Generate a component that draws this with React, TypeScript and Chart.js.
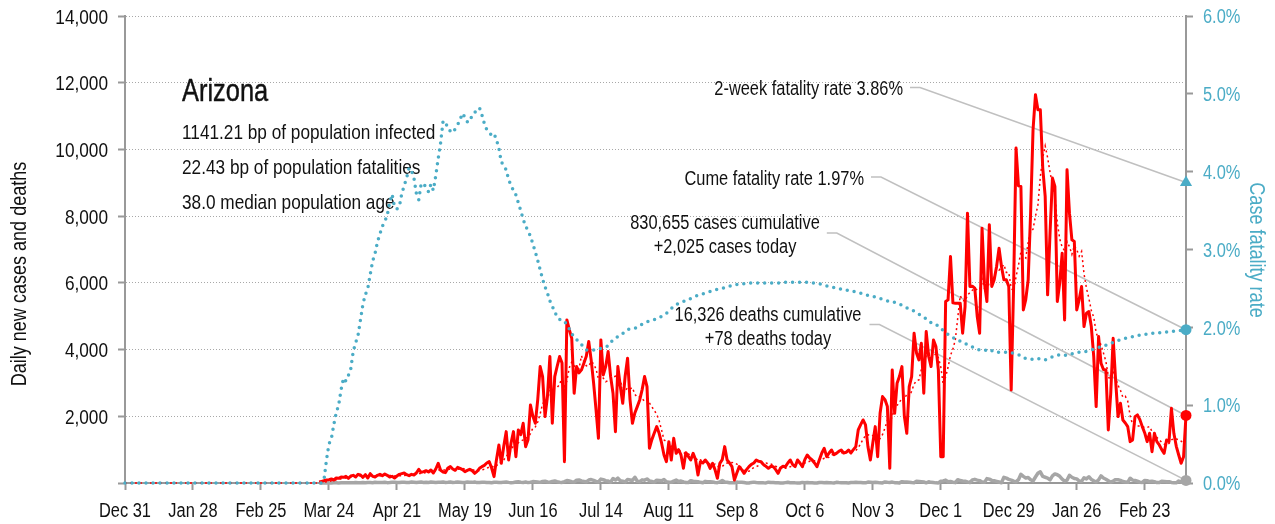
import React, { useEffect, useRef } from 'react';
import { Chart, registerables } from 'chart.js';

Chart.register(...registerables);

const FONT = "'Liberation Sans', Arial, sans-serif";
const SX = 0.82; // horizontal compression to mimic a narrow face
const TEAL = '#4bacc6';
const RED = '#ff0000';
const GRAY = '#a6a6a6';
const INK = '#111';

// x axis: day index, day 0 = Dec 31 2019, ticks every 28 days
const tickLabels = ['Dec 31', 'Jan 28', 'Feb 25', 'Mar 24', 'Apr 21', 'May 19', 'Jun 16', 'Jul 14', 'Aug 11', 'Sep 8', 'Oct 6', 'Nov 3', 'Dec 1', 'Dec 29', 'Jan 26', 'Feb 23'];
const TICK_STEP_DAYS = 28;
const LAST_DAY = 437;

const stateName = 'Arizona';
const infoLines = ['1141.21 bp of population infected', '22.43 bp of population fatalities', '38.0 median population age'];
const twoWeekFatalityRate = 3.86;
const cumeFatalityRate = 1.97;
const casesCumulative = 830655;
const casesToday = 2025;
const deathsCumulative = 16326;
const deathsToday = 78;

// daily new cases, starting at day 80
const CASES_START_DAY = 80;
const dailyCases = [
  30, 50, 70, 90, 100, 120, 90, 150, 140, 180,
  170, 200, 140, 210, 230, 180, 260, 240, 170, 250,
  150, 280, 200, 180, 230, 260, 220, 270, 230, 180,
  200, 150, 210, 260, 280, 300, 250, 220, 260, 240,
  300, 410, 320, 340, 370, 330, 390, 300, 420, 590,
  380, 330, 310, 450, 490, 420, 380, 470, 440, 400,
  340, 380, 410, 370, 290, 350, 440, 490, 530, 600,
  640, 450, 190, 700, 1140, 590, 1100, 1540, 690, 1200,
  1540, 790, 1590, 1450, 1790, 1090, 1300, 2340, 2000, 1790,
  2500, 3490, 3190, 1990, 2600, 3790, 1790, 3190, 3500, 3790,
  3600, 640, 4890, 4600, 4340, 2690, 3490, 3300, 3390, 3590,
  3800, 4240, 3690, 3000, 2200, 1340, 4290, 3240, 3500, 3940,
  3200, 2690, 1540, 3490, 2900, 2390, 3200, 3740, 2500, 1790,
  2100, 2290, 2490, 2800, 3190, 2890, 1040, 1300, 1500, 1690,
  1490, 1200, 840, 640, 1240, 690, 1340, 890, 1000, 840,
  440, 910, 800, 690, 890, 700, 240, 640, 600, 690,
  600, 440, 590, 400, 140, 590, 700, 1090, 690, 600,
  490, 90, 300, 490, 400, 290, 400, 490, 560, 600,
  690, 650, 640, 550, 500, 440, 500, 490, 400, 290,
  450, 500, 490, 600, 690, 550, 490, 690, 600, 490,
  700, 840, 750, 690, 600, 490, 700, 900, 1040, 790,
  900, 990, 850, 890, 950, 990, 900, 920, 990, 900,
  1000, 1090, 1590, 1750, 1890, 1740, 1090, 690, 1200, 1690,
  790, 2090, 2590, 2500, 2290, 440, 3390, 2090, 2990, 3200,
  3490, 2000, 1490, 2890, 3190, 4490, 3900, 3690, 4190, 2690,
  4540, 3800, 3490, 4290, 4090, 3390, 790, 790, 5440, 5490,
  6790, 5400, 5390, 5390, 5390, 4490, 5290, 8090, 5890, 5900,
  5840, 5000, 4490, 7640, 5990, 5440, 7740, 5890, 6090, 6500,
  7040, 6490, 6090, 6090, 5890, 2790, 5890, 10040, 8910, 8890,
  5190, 5500, 6090, 8090, 10590, 11640, 11190, 11190, 9440, 8590,
  5640, 7500, 9140, 8890, 5440, 6000, 6890, 4890, 9390, 8090,
  7290, 7240, 5190, 5500, 5890, 4690, 5090, 5140, 4690, 3790,
  2290, 4390, 3590, 3400, 3390, 1590, 2690, 4340, 3090, 1990,
  2390, 1890, 1800, 1690, 1240, 1290, 1990, 2040, 1900, 1690,
  1500, 1240, 1490, 940, 1490, 1240, 1140, 1000, 890, 1290,
  1240, 2240, 1490, 1100, 840, 590, 790, 2025,
];

// daily new deaths, starting at day 80
const DEATHS_START_DAY = 80;
const dailyDeaths = [
  0, 1, 1, 2, 3, 2, 5, 4, 3, 6,
  7, 5, 8, 4, 10, 12, 8, 9, 14, 10,
  15, 12, 9, 20, 18, 13, 17, 22, 11, 14,
  19, 25, 16, 12, 24, 21, 18, 15, 27, 20,
  14, 22, 30, 18, 25, 16, 28, 21, 12, 19,
  26, 33, 17, 22, 29, 14, 20, 31, 24, 18,
  15, 27, 22, 19, 30, 12, 18, 25, 21, 16,
  14, 8, 20, 24, 17, 13, 26, 32, 19, 10,
  15, 28, 35, 22, 18, 30, 12, 25, 42, 38,
  28, 19, 45, 55, 31, 26, 48, 62, 40, 25,
  18, 44, 75, 58, 39, 27, 86, 92, 64, 49,
  35, 88, 104, 79, 46, 31, 117, 97, 70, 58,
  25, 134, 89, 147, 69, 56, 31, 106, 92, 77,
  172, 52, 41, 94, 85, 121, 63, 44, 26, 86,
  78, 65, 104, 39, 25, 20, 58, 88, 46, 59,
  30, 18, 12, 71, 53, 45, 38, 20, 9, 49,
  41, 36, 28, 14, 11, 32, 75, 30, 24, 8,
  6, 4, 27, 19, 22, 12, 3, 2, 18, 26,
  15, 9, 11, 4, 2, 25, 14, 12, 8, 6,
  3, 1, 11, 22, 8, 10, 5, 2, 1, 18,
  9, 14, 6, 9, 3, 1, 16, 12, 8, 15,
  10, 4, 2, 20, 14, 11, 9, 7, 3, 14,
  18, 21, 12, 14, 5, 4, 28, 25, 16, 19,
  12, 4, 2, 33, 22, 18, 27, 10, 6, 3,
  40, 31, 28, 23, 14, 9, 56, 48, 41, 30,
  5, 38, 20, 12, 4, 3, 54, 62, 87, 39,
  46, 25, 11, 98, 72, 61, 55, 33, 15, 92,
  110, 86, 71, 29, 19, 132, 115, 78, 67, 50,
  29, 6, 171, 147, 109, 88, 54, 35, 100, 260,
  198, 150, 166, 96, 60, 180, 290, 335, 197, 173,
  148, 94, 215, 272, 248, 200, 114, 56, 87, 233,
  173, 136, 123, 60, 48, 158, 122, 186, 108, 65,
  30, 95, 213, 150, 113, 68, 24, 58, 101, 96,
  78, 44, 32, 21, 143, 87, 74, 52, 25, 18,
  78, 70, 44, 50, 40, 14, 12, 55, 48, 35,
  41, 16, 9, 5, 60, 28, 14, 78,
];

// case fatality rate (%), starting at day 0
const caseFatalityRate = [
  0, 0, 0, 0, 0, 0, 0, 0, 0, 0,
  0, 0, 0, 0, 0, 0, 0, 0, 0, 0,
  0, 0, 0, 0, 0, 0, 0, 0, 0, 0,
  0, 0, 0, 0, 0, 0, 0, 0, 0, 0,
  0, 0, 0, 0, 0, 0, 0, 0, 0, 0,
  0, 0, 0, 0, 0, 0, 0, 0, 0, 0,
  0, 0, 0, 0, 0, 0, 0, 0, 0, 0,
  0, 0, 0, 0, 0, 0, 0, 0, 0, 0,
  0, 0, 0.05, 0.3, 0.5, 0.57, 0.75, 0.9, 1.0, 1.2,
  1.35, 1.31, 1.38, 1.47, 1.69, 1.8, 1.9, 2.1, 2.3, 2.42,
  2.5, 2.68, 2.85, 2.95, 3.1, 3.2, 3.3, 3.36, 3.44, 3.6,
  3.71, 3.55, 3.52, 3.55, 3.72, 3.82, 3.92, 4.05, 4.01, 3.92,
  3.72, 3.64, 3.85, 3.84, 3.8, 3.74, 3.84, 3.76, 3.95, 4.17,
  4.37, 4.65, 4.64, 4.55, 4.52, 4.5, 4.55, 4.6, 4.67, 4.75,
  4.7, 4.64, 4.64, 4.73, 4.76, 4.79, 4.82, 4.73, 4.62, 4.54,
  4.5, 4.47, 4.49, 4.41, 4.3, 4.12, 4.09, 4.02, 3.9, 3.82,
  3.76, 3.7, 3.6, 3.5, 3.39, 3.3, 3.24, 3.17, 3.07, 2.97,
  2.86, 2.74, 2.62, 2.52, 2.44, 2.34, 2.27, 2.2, 2.13, 2.1,
  2.1, 2.08, 2.03, 1.98, 1.92, 1.87, 1.84, 1.82, 1.78, 1.74,
  1.71, 1.71, 1.71, 1.71, 1.72, 1.72, 1.73, 1.74, 1.75, 1.76,
  1.8, 1.84, 1.86, 1.88, 1.9, 1.92, 1.95, 1.97, 1.98, 1.99,
  1.99, 2.0, 2.02, 2.04, 2.05, 2.07, 2.08, 2.09, 2.1, 2.11,
  2.13, 2.14, 2.16, 2.18, 2.21, 2.24, 2.27, 2.29, 2.31, 2.32,
  2.33, 2.35, 2.36, 2.37, 2.38, 2.4, 2.41, 2.42, 2.43, 2.44,
  2.45, 2.46, 2.47, 2.48, 2.49, 2.49, 2.5, 2.51, 2.52, 2.53,
  2.53, 2.54, 2.55, 2.55, 2.56, 2.56, 2.56, 2.57, 2.57, 2.57,
  2.57, 2.57, 2.57, 2.57, 2.57, 2.57, 2.57, 2.57, 2.57, 2.57,
  2.57, 2.58, 2.58, 2.58, 2.58, 2.58, 2.58, 2.58, 2.58, 2.58,
  2.58, 2.58, 2.58, 2.57, 2.57, 2.56, 2.56, 2.55, 2.54, 2.53,
  2.53, 2.52, 2.51, 2.5, 2.5, 2.49, 2.48, 2.48, 2.47, 2.47,
  2.46, 2.46, 2.45, 2.44, 2.43, 2.42, 2.41, 2.4, 2.4, 2.39,
  2.38, 2.37, 2.36, 2.35, 2.34, 2.33, 2.33, 2.32, 2.31, 2.3,
  2.28, 2.27, 2.25, 2.24, 2.22, 2.21, 2.19, 2.17, 2.15, 2.13,
  2.11, 2.09, 2.06, 2.04, 2.03, 2.02, 1.99, 1.96, 1.93, 1.91,
  1.89, 1.87, 1.85, 1.84, 1.82, 1.81, 1.79, 1.78, 1.76, 1.75,
  1.73, 1.72, 1.71, 1.7, 1.7, 1.71, 1.72, 1.7, 1.68, 1.68,
  1.68, 1.68, 1.68, 1.68, 1.67, 1.67, 1.67, 1.66, 1.65, 1.63,
  1.61, 1.6, 1.6, 1.59, 1.59, 1.59, 1.6, 1.59, 1.58, 1.58,
  1.6, 1.61, 1.62, 1.63, 1.64, 1.65, 1.65, 1.64, 1.64, 1.65,
  1.66, 1.67, 1.67, 1.68, 1.68, 1.69, 1.69, 1.7, 1.71, 1.72,
  1.73, 1.74, 1.75, 1.76, 1.77, 1.78, 1.79, 1.81, 1.82, 1.83,
  1.84, 1.85, 1.86, 1.87, 1.87, 1.88, 1.88, 1.89, 1.9, 1.9,
  1.91, 1.91, 1.92, 1.92, 1.93, 1.93, 1.93, 1.94, 1.94, 1.94,
  1.95, 1.95, 1.95, 1.96, 1.96, 1.96, 1.97, 1.97,
];

function buildSeries(values: number[], start: number) {
  return values.map((v, i) => ({ x: start + i, y: v }));
}

function buildMovingAverage(values: number[], start: number, lastDay: number) {
  const out: { x: number; y: number }[] = [];
  for (let d = 0; d <= lastDay; d++) {
    let s = 0;
    for (let k = d - 6; k <= d; k++) {
      const idx = k - start;
      if (idx >= 0 && idx < values.length) s += values[idx];
    }
    out.push({ x: d, y: s / 7 });
  }
  return out;
}

function drawText(ctx: CanvasRenderingContext2D, s: string, x: number, y: number, align: CanvasTextAlign, size: number, color: string, rot = 0, stroke = 0) {
  ctx.save();
  ctx.translate(x, y);
  if (rot) ctx.rotate(rot);
  ctx.scale(SX, 1);
  ctx.font = `${size}px ${FONT}`;
  ctx.fillStyle = color;
  ctx.textAlign = align;
  ctx.textBaseline = 'alphabetic';
  ctx.fillText(s, 0, 0);
  if (stroke) {
    ctx.strokeStyle = color;
    ctx.lineWidth = stroke;
    ctx.lineJoin = 'round';
    ctx.strokeText(s, 0, 0);
  }
  ctx.restore();
}

function textWidth(ctx: CanvasRenderingContext2D, s: string, size: number) {
  ctx.save();
  ctx.font = `${size}px ${FONT}`;
  const w = ctx.measureText(s).width * SX;
  ctx.restore();
  return w;
}

const overlayPlugin = {
  id: 'overlay',
  beforeDatasetsDraw(chart: any) {
    const ctx = chart.ctx as CanvasRenderingContext2D;
    const xs = chart.scales.x;
    const ys = chart.scales.y;
    const yr = chart.scales.y1;
    const xEnd = xs.getPixelForValue(LAST_DAY);

    // tick labels
    xs.ticks.forEach((t: any) => {
      const lbl = tickLabels[Math.round(t.value / TICK_STEP_DAYS)];
      if (lbl) drawText(ctx, lbl, xs.getPixelForValue(t.value), 517, 'center', 20, INK);
    });
    ys.ticks.forEach((t: any) => {
      if (t.value === 0) return;
      drawText(ctx, t.value.toLocaleString('en-US'), 108, ys.getPixelForValue(t.value) + 7.5, 'right', 21, INK);
    });
    yr.ticks.forEach((t: any) => {
      drawText(ctx, t.value.toFixed(1) + '%', 1203, yr.getPixelForValue(t.value) + 7.2, 'left', 20, TEAL);
    });

    // axis titles
    drawText(ctx, 'Daily new cases and deaths', 26, 274, 'center', 22, INK, -Math.PI / 2);
    drawText(ctx, 'Case fatality rate', 1250, 250, 'center', 22, TEAL, Math.PI / 2);

    // title block
    drawText(ctx, stateName, 182, 101, 'left', 31, INK, 0, 0.45);
    infoLines.forEach((t, i) => drawText(ctx, t, 182, 138.5 + i * 35, 'left', 21, INK));

    // annotations
    const connectors: [number, number, number][] = [];
    drawText(ctx, `2-week fatality rate ${twoWeekFatalityRate.toFixed(2)}%`, 903, 95, 'right', 20, INK);
    connectors.push([910, 87.5, yr.getPixelForValue(twoWeekFatalityRate)]);
    drawText(ctx, `Cume fatality rate ${cumeFatalityRate.toFixed(2)}%`, 864, 184.5, 'right', 20, INK);
    connectors.push([871, 177, yr.getPixelForValue(cumeFatalityRate)]);

    const c1 = `${casesCumulative.toLocaleString('en-US')} cases cumulative`;
    const c2 = `+${casesToday.toLocaleString('en-US')} cases today`;
    drawText(ctx, c1, 725, 228.5, 'center', 20, INK);
    drawText(ctx, c2, 725, 252.5, 'center', 20, INK);
    connectors.push([725 + textWidth(ctx, c1, 20) / 2 + 7, 233, ys.getPixelForValue(dailyCases[dailyCases.length - 1])]);

    const d1 = `${deathsCumulative.toLocaleString('en-US')} deaths cumulative`;
    const d2 = `+${deathsToday} deaths today`;
    drawText(ctx, d1, 768, 320.5, 'center', 20, INK);
    drawText(ctx, d2, 768, 345, 'center', 20, INK);
    connectors.push([768 + textWidth(ctx, d1, 20) / 2 + 8, 324.5, ys.getPixelForValue(dailyDeaths[dailyDeaths.length - 1])]);

    ctx.save();
    ctx.strokeStyle = '#c0c0c0';
    ctx.lineWidth = 1.6;
    connectors.forEach(([x0, y0, yEnd]) => {
      ctx.beginPath();
      ctx.moveTo(x0, y0);
      ctx.lineTo(x0 + 10, y0);
      ctx.lineTo(xEnd, yEnd);
      ctx.stroke();
    });
    ctx.restore();
  },
};

export default function App() {
  const ref = useRef<HTMLCanvasElement>(null);
  useEffect(() => {
    const canvas = ref.current;
    if (!canvas) return;
    const casesPts = buildSeries(dailyCases, CASES_START_DAY);
    const deathsPts = buildSeries(dailyDeaths, DEATHS_START_DAY);
    const cfrPts = buildSeries(caseFatalityRate, 0);
    const maPts = buildMovingAverage(dailyCases, CASES_START_DAY, LAST_DAY);
    const lastCase = casesPts[casesPts.length - 1];
    const lastDeath = deathsPts[deathsPts.length - 1];
    const lastCfr = cfrPts[cfrPts.length - 1];

    const chart = new Chart(canvas, {
      type: 'line',
      data: {
        datasets: [
          { data: [{ x: LAST_DAY, y: twoWeekFatalityRate }], yAxisID: 'y1', showLine: false, pointStyle: 'triangle', pointRadius: 7, backgroundColor: TEAL, borderColor: TEAL, borderWidth: 0, clip: false, order: 0 },
          { data: [{ x: lastCfr.x, y: cumeFatalityRate }], yAxisID: 'y1', showLine: false, pointStyle: 'circle', pointRadius: 5.5, backgroundColor: TEAL, borderColor: TEAL, borderWidth: 0, clip: false, order: 0 },
          { data: [lastCase], yAxisID: 'y', showLine: false, pointStyle: 'circle', pointRadius: 5.5, backgroundColor: RED, borderColor: RED, borderWidth: 0, clip: false, order: 0 },
          { data: [lastDeath], yAxisID: 'y', showLine: false, pointStyle: 'circle', pointRadius: 5.5, backgroundColor: GRAY, borderColor: GRAY, borderWidth: 0, clip: false, order: 0 },
          { label: 'Case fatality rate', data: cfrPts, yAxisID: 'y1', borderColor: TEAL, borderWidth: 3.5, borderDash: [0, 7], borderCapStyle: 'round', pointRadius: 0, tension: 0, clip: false, order: 1 },
          { label: '7-day average', data: maPts, yAxisID: 'y', borderColor: RED, borderWidth: 1.5, borderDash: [2, 3], pointRadius: 0, tension: 0, clip: false, order: 2 },
          { label: 'Daily new cases', data: casesPts, yAxisID: 'y', borderColor: RED, borderWidth: 3, pointRadius: 0, tension: 0, clip: false, order: 3, borderJoinStyle: 'round' },
          { label: 'Daily deaths', data: deathsPts, yAxisID: 'y', borderColor: GRAY, borderWidth: 3.5, pointRadius: 0, tension: 0, clip: false, order: 4, borderJoinStyle: 'round' },
        ] as any,
      },
      options: {
        animation: false,
        responsive: false,
        devicePixelRatio: 1,
        layout: { padding: { top: 16, left: 0, right: 0, bottom: 0 } },
        plugins: { legend: { display: false }, tooltip: { enabled: false } },
        scales: {
          x: {
            type: 'linear',
            position: 'bottom',
            min: 0,
            max: LAST_DAY,
            afterFit: (s: any) => { s.height = 41; },
            ticks: { display: false, stepSize: TICK_STEP_DAYS, includeBounds: false, autoSkip: false, maxRotation: 0, minRotation: 0 },
            grid: { drawOnChartArea: false, drawTicks: true, tickLength: 7, tickColor: '#999', tickWidth: 2 },
            border: { color: '#999', width: 2 },
          },
          y: {
            type: 'linear',
            position: 'left',
            min: 0,
            max: 14000,
            afterFit: (s: any) => { s.width = 125; },
            ticks: { display: false, stepSize: 2000 },
            grid: { color: '#a8a8a8', lineWidth: 1, drawTicks: true, tickLength: 7, tickColor: '#999', tickWidth: 2 },
            border: { color: '#999', width: 2, dash: [1, 2] },
          },
          y1: {
            type: 'linear',
            position: 'right',
            min: 0,
            max: 6,
            afterFit: (s: any) => { s.width = 89; },
            ticks: { display: false, stepSize: 1 },
            grid: { drawOnChartArea: false, drawTicks: true, tickLength: 7, tickColor: '#999', tickWidth: 2 },
            border: { color: '#999', width: 2 },
          },
        },
      } as any,
      plugins: [overlayPlugin],
    });
    return () => chart.destroy();
  }, []);

  return (
    <div style={{ position: 'absolute', left: 0, top: 0, width: 1275, height: 524, background: '#fff' }}>
      <canvas ref={ref} width={1275} height={524} style={{ display: 'block', width: 1275, height: 524 }} />
    </div>
  );
}
